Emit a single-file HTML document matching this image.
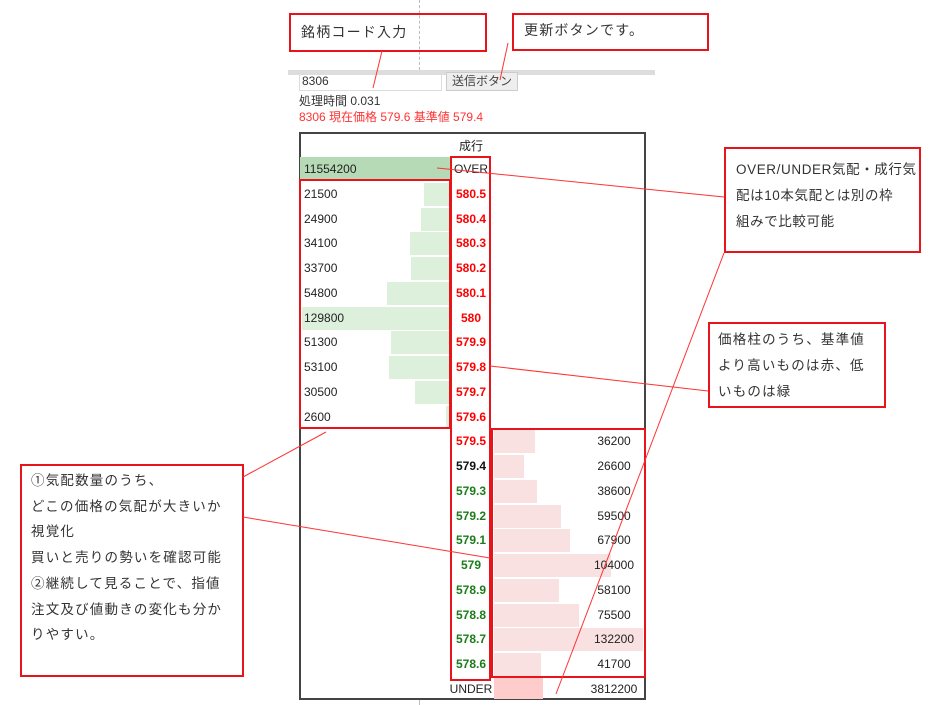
<!DOCTYPE html>
<html><head><meta charset="utf-8"><style>
body{margin:0;width:933px;height:705px;background:#fff;position:relative;overflow:hidden;font-family:"Liberation Sans","Noto Sans CJK JP",sans-serif;}
div{position:absolute;box-sizing:border-box;}
.rb{border:2px solid #e8141c;}
.ann{font-size:13.5px;color:#333;line-height:25.7px;white-space:nowrap;letter-spacing:1.2px;}
.l{left:304px;font-size:12px;color:#222;height:24.75px;line-height:24.75px;}
.p{left:451px;width:40px;text-align:center;font-size:12px;font-weight:bold;height:24.75px;line-height:24.75px;}
.rd{color:#f00}.gr{color:#1a7d1a}
.n{left:584px;width:60px;text-align:center;font-size:12px;color:#222;height:24.75px;line-height:24.75px;}
.g{background:#dcf0dc;height:23px;}
.k{background:#f9e1e1;height:23px;left:494px;}
</style></head><body>
<div style="left:419px;top:0;width:0;height:70px;border-left:1px dashed #bbb;"></div>
<div style="left:419px;top:699px;width:0;height:6px;border-left:1px dashed #bbb;"></div>
<div style="left:288px;top:70px;width:367px;height:5px;background:#ddd;"></div>
<div style="left:299px;top:72px;width:143px;height:19px;border:1px solid #ddd;font-size:12px;color:#333;line-height:17px;padding-left:2px;">8306</div>
<div style="left:446px;top:72px;width:72px;height:19px;border:1px solid #ccc;background:#eee;font-size:12px;color:#444;line-height:17px;text-align:center;">送信ボタン</div>
<div style="left:299px;top:92px;font-size:12px;color:#333;">処理時間 0.031</div>
<div style="left:299px;top:108px;font-size:12px;color:#f33;">8306 現在価格 579.6 基準値 579.4</div>

<div style="left:299px;top:132px;width:347px;height:568px;border:2px solid #444;"></div>
<div style="left:451px;top:137px;width:40px;text-align:center;font-size:12px;color:#222;">成行</div>

<div style="left:300px;top:157px;width:150px;height:23px;background:#b5dab5;"></div>
<div class="l" style="top:157px;">11554200</div>
<div class="p" style="top:157px;font-weight:normal;color:#222;">OVER</div>

<div class="g" style="left:424px;width:26px;top:182.75px"></div><div class="l" style="top:181.75px">21500</div><div class="p rd" style="top:181.75px">580.5</div>
<div class="g" style="left:421px;width:29px;top:207.5px"></div><div class="l" style="top:206.5px">24900</div><div class="p rd" style="top:206.5px">580.4</div>
<div class="g" style="left:410px;width:40px;top:232.25px"></div><div class="l" style="top:231.25px">34100</div><div class="p rd" style="top:231.25px">580.3</div>
<div class="g" style="left:411px;width:39px;top:257px"></div><div class="l" style="top:256px">33700</div><div class="p rd" style="top:256px">580.2</div>
<div class="g" style="left:387px;width:63px;top:281.75px"></div><div class="l" style="top:280.75px">54800</div><div class="p rd" style="top:280.75px">580.1</div>
<div class="g" style="left:302px;width:148px;top:306.5px"></div><div class="l" style="top:305.5px">129800</div><div class="p rd" style="top:305.5px">580</div>
<div class="g" style="left:391px;width:59px;top:331.25px"></div><div class="l" style="top:330.25px">51300</div><div class="p rd" style="top:330.25px">579.9</div>
<div class="g" style="left:389px;width:61px;top:356px"></div><div class="l" style="top:355px">53100</div><div class="p rd" style="top:355px">579.8</div>
<div class="g" style="left:415px;width:35px;top:380.75px"></div><div class="l" style="top:379.75px">30500</div><div class="p rd" style="top:379.75px">579.7</div>
<div class="g" style="left:446px;width:4px;top:405.5px"></div><div class="l" style="top:404.5px">2600</div><div class="p rd" style="top:404.5px">579.6</div>

<div class="k" style="width:41px;top:430.25px"></div><div class="n" style="top:429.25px">36200</div><div class="p rd" style="top:429.25px">579.5</div>
<div class="k" style="width:30px;top:455px"></div><div class="n" style="top:454px">26600</div><div class="p" style="top:454px;color:#111">579.4</div>
<div class="k" style="width:43px;top:479.75px"></div><div class="n" style="top:478.75px">38600</div><div class="p gr" style="top:478.75px">579.3</div>
<div class="k" style="width:67px;top:504.5px"></div><div class="n" style="top:503.5px">59500</div><div class="p gr" style="top:503.5px">579.2</div>
<div class="k" style="width:76px;top:529.25px"></div><div class="n" style="top:528.25px">67900</div><div class="p gr" style="top:528.25px">579.1</div>
<div class="k" style="width:117px;top:554px"></div><div class="n" style="top:553px">104000</div><div class="p gr" style="top:553px">579</div>
<div class="k" style="width:65px;top:578.75px"></div><div class="n" style="top:577.75px">58100</div><div class="p gr" style="top:577.75px">578.9</div>
<div class="k" style="width:85px;top:603.5px"></div><div class="n" style="top:602.5px">75500</div><div class="p gr" style="top:602.5px">578.8</div>
<div class="k" style="width:149px;top:628.25px"></div><div class="n" style="top:627.25px">132200</div><div class="p gr" style="top:627.25px">578.7</div>
<div class="k" style="width:47px;top:653px"></div><div class="n" style="top:652px">41700</div><div class="p gr" style="top:652px">578.6</div>
<div style="left:494px;width:49px;top:677px;height:22px;background:#fcc;"></div>
<div class="n" style="top:676.75px">3812200</div>
<div class="p" style="top:676.75px;font-weight:normal;color:#222;left:446px;width:50px;">UNDER</div>

<div class="rb" style="left:299px;top:179px;width:152px;height:250px;"></div>
<div class="rb" style="left:450px;top:156px;width:41px;height:525px;"></div>
<div class="rb" style="left:491px;top:428px;width:155px;height:250px;"></div>

<div class="rb ann" style="left:289px;top:13px;width:198px;height:39px;padding:5px 0 0 10px;font-size:14px;">銘柄コード入力</div>
<div class="rb ann" style="left:512px;top:13px;width:197px;height:38px;padding:3px 0 0 10px;font-size:14px;">更新ボタンです。</div>
<div class="rb ann" style="left:724px;top:147px;width:197px;height:106px;padding:8px 0 0 10px;line-height:26px;letter-spacing:0.6px;">OVER/UNDER気配・成行気<br>配は10本気配とは別の枠<br>組みで比較可能</div>
<div class="rb ann" style="left:708px;top:322px;width:178px;height:86px;padding:3px 0 0 8px;line-height:26px;">価格柱のうち、基準値<br>より高いものは赤、低<br>いものは緑</div>
<div class="rb ann" style="left:20px;top:464px;width:224px;height:213px;padding:2px 0 0 9px;">①気配数量のうち、<br>どこの価格の気配が大きいか<br>視覚化<br>買いと売りの勢いを確認可能<br>②継続して見ることで、指値<br>注文及び値動きの変化も分か<br>りやすい。</div>

<svg style="position:absolute;left:0;top:0" width="933" height="705">
<g stroke="#f33" stroke-width="1" fill="none">
<line x1="382" y1="51" x2="373" y2="88"/>
<line x1="508" y1="43" x2="500" y2="80"/>
<line x1="437" y1="168" x2="724" y2="197"/>
<line x1="724" y1="253" x2="556" y2="694"/>
<line x1="490" y1="366" x2="708" y2="391"/>
<line x1="243" y1="477" x2="326" y2="432"/>
<line x1="243" y1="517" x2="490" y2="558"/>
</g></svg>
</body></html>
